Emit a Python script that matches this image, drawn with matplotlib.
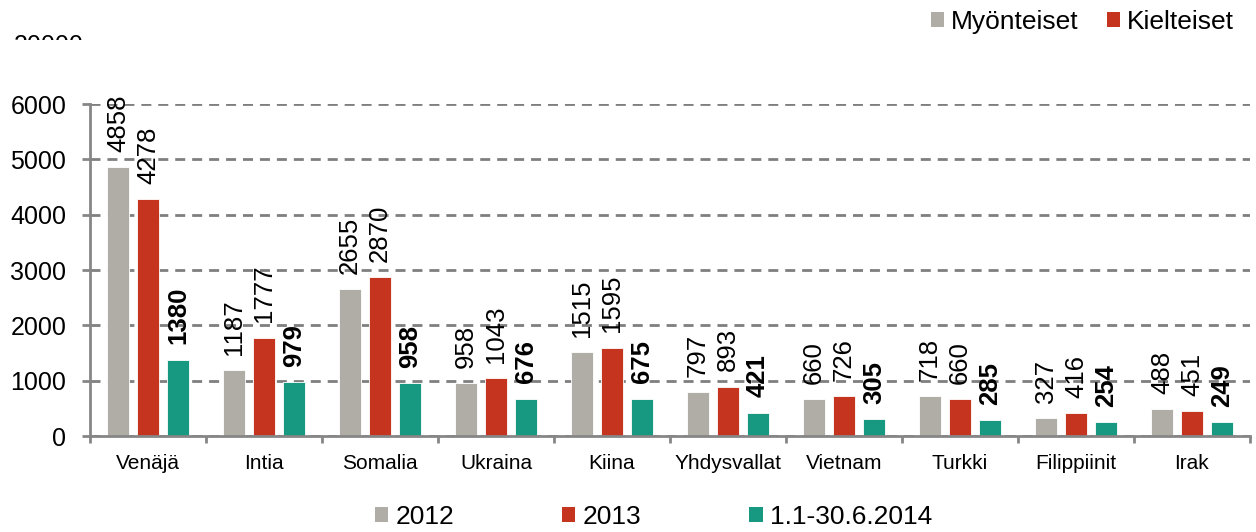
import matplotlib
matplotlib.use("Agg")
import matplotlib.pyplot as plt
import numpy as np
from matplotlib.patches import Patch
from matplotlib.transforms import Bbox

countries = ["Venäjä", "Intia", "Somalia", "Ukraina", "Kiina", "Yhdysvallat",
             "Vietnam", "Turkki", "Filippiinit", "Irak"]
v2012 = [4858, 1187, 2655, 958, 1515, 797, 660, 718, 327, 488]
v2013 = [4278, 1777, 2870, 1043, 1595, 893, 726, 660, 416, 451]
v2014 = [1380, 979, 958, 676, 675, 421, 305, 285, 254, 249]
series_names = ["2012", "2013", "1.1-30.6.2014"]
top_legend = ["Myönteiset", "Kielteiset"]
yticks = [0, 1000, 2000, 3000, 4000, 5000, 6000]

GRAY = "#B0ADA6"
RED = "#C5341F"
GREEN = "#179880"
AXC = "#868686"

plt.rcParams['font.family'] = ['Liberation Sans', 'DejaVu Sans']

fig = plt.figure(figsize=(12.56, 5.32), dpi=100)
ax = fig.add_axes([90/1256, 1-436/532, 1160/1256, 332/532])

x = np.arange(len(countries))
off = 0.259
w = 0.19
series = [v2012, v2013, v2014]
colors = [GRAY, RED, GREEN]
for k, (vals, c) in enumerate(zip(series, colors)):
    pos = x + (k - 1) * off
    ax.bar(pos, vals, width=w, color=c, edgecolor="white", linewidth=0.6, zorder=3)
    for px, v in zip(pos, vals):
        ax.annotate(str(v), (px, v), xytext=(0, 11), textcoords="offset points",
                    rotation=90, ha="center", va="bottom", fontsize=18.5,
                    fontweight="bold" if k == 2 else "normal", zorder=5,
                    annotation_clip=False)

ax.set_xlim(-0.5, len(countries) - 0.5)
ax.set_ylim(0, 6000)
ax.set_yticks(yticks)
ax.set_yticklabels([str(t) for t in yticks])
ax.yaxis.grid(True, linestyle=(0, (3.6, 2.5)), color="#7F7F7F", linewidth=2.0, zorder=0)
ax.set_axisbelow(True)

ax.set_xticks(x)
ax.set_xticklabels(countries, fontsize=15)
ax.set_xticks(np.arange(len(countries) + 1) - 0.5, minor=True)
ax.tick_params(axis="x", which="major", length=0, pad=13)
ax.tick_params(axis="x", which="minor", length=5, width=2, color=AXC, direction="out")
ax.tick_params(axis="y", length=6, width=2, color=AXC, direction="out", pad=11, labelsize=18)

for s in ["top", "right"]:
    ax.spines[s].set_visible(False)
for s in ["left", "bottom"]:
    ax.spines[s].set_color(AXC)
    ax.spines[s].set_linewidth(2)
ax.spines["bottom"].set_zorder(4)

# bottom legend
h_bottom = [Patch(facecolor=c, edgecolor="none") for c in colors]
fig.legend(h_bottom, series_names, loc="center left", bbox_to_anchor=(375/1256, 1-517/532),
           ncol=3, frameon=False, fontsize=19, handlelength=0.5, handleheight=0.5,
           handletextpad=0.27, columnspacing=4.1, borderpad=0, borderaxespad=0)

# top legend
h_top = [Patch(facecolor=GRAY, edgecolor="none"), Patch(facecolor=RED, edgecolor="none")]
fig.legend(h_top, top_legend, loc="center left", bbox_to_anchor=(931/1256, 1-22/532),
           ncol=2, frameon=False, fontsize=19, handlelength=0.5, handleheight=0.5,
           handletextpad=0.27, columnspacing=1.05, borderpad=0, borderaxespad=0)

# clipped stray label at top-left
t = fig.text(14/1256, 1-34/532, "20000", fontsize=18, ha="left", va="top")
t.set_clip_box(Bbox([[0, 532-40], [300, 532]]))
t.set_clip_on(True)

fig.savefig("out.png", dpi=100)
